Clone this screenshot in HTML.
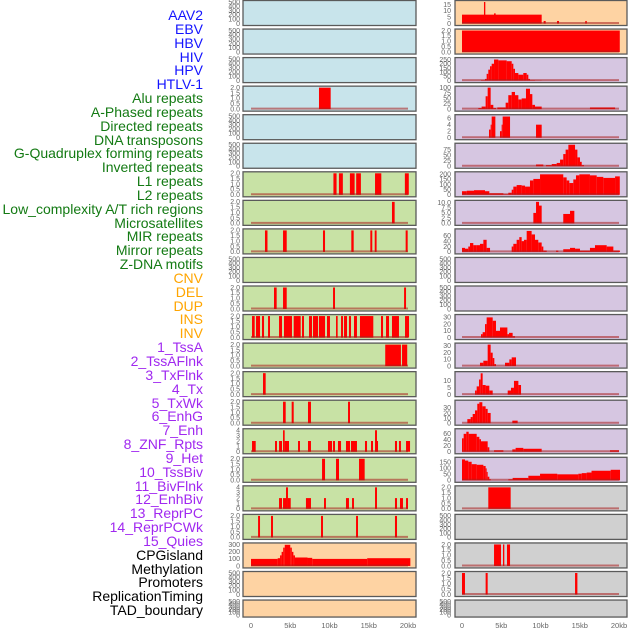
<!DOCTYPE html>
<html><head><meta charset="utf-8"><style>
body{margin:0;background:#fff;}
#wrap{position:relative;width:630px;height:630px;overflow:hidden;font-family:"Liberation Sans",sans-serif;}
.lab{position:absolute;right:427px;font-size:14px;line-height:14px;white-space:nowrap;}
svg{position:absolute;left:0;top:0;}
</style></head><body>
<div id="wrap">
<svg id="chart" width="630" height="630"></svg>
</div>
<script>
const labels=["AAV2","EBV","HBV","HIV","HPV","HTLV-1","Alu repeats","A-Phased repeats","Directed repeats","DNA transposons","G-Quadruplex forming repeats","Inverted repeats","L1 repeats","L2 repeats","Low_complexity A/T rich regions","Microsatellites","MIR repeats","Mirror repeats","Z-DNA motifs","CNV","DEL","DUP","INS","INV","1_TssA","2_TssAFlnk","3_TxFlnk","4_Tx","5_TxWk","6_EnhG","7_Enh","8_ZNF_Rpts","9_Het","10_TssBiv","11_BivFlnk","12_EnhBiv","13_ReprPC","14_ReprPCWk","15_Quies","CPGisland","Methylation","Promoters","ReplicationTiming","TAD_boundary"];
const labelGroups=[6,13,5,15,5];
const groupColors=["#1414ff","#137a13","#ffa500","#a028f0","#000000"];
const xTickLabels=["0","5kb","10kb","15kb","20kb"];
const xTickValues=[0,5,10,15,20];

// panel background groups
const leftBg=["b","b","b","b","b","b","g","g","g","g","g","g","g","g","g","g","g","g","g","o","o","o"];
const rightBg=["o","o","p","p","p","p","p","p","p","p","p","p","p","p","p","p","p","y","y","y","y","y"];
const bgColors={b:"#c8e4eb",g:"#c8e2a5",o:"#fed3a3",p:"#d6c6e1",y:"#d0d0d0"};

const leftYMax=[500,500,500,2,500,500,2,2,2,500,2,2,2,2,2,4,2,4,2,305,500,500];
const rightYMax=[17,2,255,100,6.6,97,210,10.3,80,500,500,32,32,15.6,42,72,180,2,500,2,2,500];

const T500=["0","100","200","300","400","500"];
const T2=["0.0","0.5","1.0","1.5","2.0"];
const T4=["0","1","2","3","4"];
const leftTicks=[T500,T500,T500,T2,T500,T500,T2,T2,T2,T500,T2,T2,T2,T2,T2,T4,T2,T4,T2,["0","100","200","300"],T500,T500];
const rightTicks=[["0","5","10","15"],T2,["0","50","100","150","200","250"],["0","25","50","75","100"],["0","2","4","6"],["0","25","50","75"],["0","50","100","150","200"],["0.0","2.5","5.0","7.5","10.0"],["0","20","40","60"],T500,T500,["0","10","20","30"],["0","10","20","30"],["0","5","10"],["0","10","20","30"],["0","20","40","60"],["0","50","100","150"],T2,T500,T2,T2,T500];

// segments [startKb, endKb, value]
const segL4=[[8.66,10.15,2]];
const segL7=[[10.5,10.9,2],[11.2,11.7,2],[12.6,13.2,2],[13.4,14.0,2],[15.8,16.6,2],[19.6,20.1,2]];
const segL8=[[17.96,18.3,2]];
const segL9=[[1.78,2.1,2],[4.08,4.55,2],[9.17,9.43,2],[12.78,13.08,2],[15.2,15.45,2],[15.76,16.0,2],[19.7,19.96,2]];
const segL11=[[2.93,3.27,2],[4.08,4.55,2],[10.45,10.7,2],[19.5,19.75,2]];
const segL12=[[0.13,0.47,2],[0.64,1.15,2],[1.4,1.66,2],[2.17,2.42,2],[3.57,3.95,2],[4.2,5.22,2],[5.44,6.33,2],[6.5,6.75,2],[7.39,7.77,2],[7.9,8.54,2],[8.66,9.43,2],[9.68,10.06,2],[10.83,11.04,2],[11.47,11.72,2],[11.85,12.23,2],[12.48,12.74,2],[13.12,13.5,2],[13.88,15.58,2],[16.56,16.82,2],[17.2,17.58,2],[17.96,18.85,2],[19.62,20.13,2]];
const segL13=[[17.1,19.1,2],[19.24,19.9,2]];
const segL14=[[1.53,1.87,2]];
const segL15=[[4.08,4.42,2],[5.18,5.44,2],[7.26,7.64,2],[12.36,12.61,2]];
const segL16=[[0.13,0.6,2],[3.06,3.31,2],[3.57,3.95,2],[4.08,4.29,4],[4.29,4.84,2],[5.99,6.24,2],[7.26,7.64,2],[9.81,10.32,2],[10.45,10.7,2],[11.08,11.47,2],[12.1,12.61,2],[12.74,13.5,2],[14.52,14.78,2],[15.29,15.54,2],[15.8,16.05,4],[16.05,16.18,2],[18.34,18.6,2],[18.85,19.1,2],[19.75,20.26,2]];
const segL17=[[9.05,9.43,2],[10.83,11.21,2],[13.76,14.48,2]];
const segL18=[[3.57,3.95,2],[4.08,4.46,2],[4.46,4.71,4],[4.71,5.06,2],[7.0,7.64,2],[9.3,9.55,2],[12.1,12.48,2],[12.87,13.12,2],[15.8,16.05,4],[18.34,18.6,2],[18.98,19.36,2],[19.75,20.0,2]];
const segL19=[[0.9,1.15,2],[2.55,2.8,2],[8.92,9.17,2],[13.38,13.63,2],[18.34,18.6,2]];
const segL20=[[0,3.4,100],[3.4,3.7,110],[3.7,3.9,150],[3.9,4.1,200],[4.1,4.3,260],[4.3,5.0,300],[5.0,5.2,260],[5.2,5.4,200],[5.4,5.6,150],[5.6,7.2,120],[7.2,7.8,115],[7.8,14.8,100],[14.8,20.3,110]];
const segR1=[[0,10.15,7],[2.8,2.97,17],[4.08,4.29,8],[10.4,10.66,2],[12.1,12.36,2],[15.7,15.9,2]];
const segR2=[[0,20.1,2]];
const segR3=[[2.42,2.93,5],[2.93,3.14,20],[3.14,3.35,80],[3.35,3.57,130],[3.57,3.78,170],[3.78,4.08,200],[4.08,4.63,250],[4.63,5.69,240],[5.69,6.33,230],[6.33,6.54,200],[6.54,6.75,140],[6.75,7.18,90],[7.18,7.81,70],[7.81,8.24,90],[8.24,8.45,70],[8.45,8.66,20],[8.66,9.3,5],[9.3,10.15,2]];
const segR4=[[2.08,2.5,5],[2.5,3.01,12],[3.01,3.27,60],[3.27,3.65,100],[3.65,3.99,20],[3.99,4.33,5],[4.5,5.56,8],[5.56,5.9,30],[5.9,6.33,65],[6.33,6.75,80],[6.75,7.18,65],[7.18,7.6,45],[7.6,8.15,50],[8.15,8.66,95],[8.66,8.96,70],[8.96,9.3,20],[9.3,10.15,12],[16.3,19.5,8]];
const segR5=[[3.44,3.65,2.5],[3.65,3.78,4],[3.78,4.25,6.5],[4.84,5.05,2],[5.05,5.18,4],[5.18,6.12,6.5],[9.43,10.15,4]];
const segR6=[[9.43,10.36,8],[10.7,11.43,5],[11.43,12.06,10],[12.06,12.49,15],[12.49,12.9,30],[12.9,13.2,55],[13.2,13.55,75],[13.55,14.4,97],[14.4,14.7,75],[14.7,15.03,40],[15.03,15.25,20],[15.25,15.54,5]];
const segR7=[[0,0.6,35],[0.6,1.53,40],[1.53,2.93,45],[2.93,3.48,35],[3.48,5.27,15],[5.27,5.9,5],[5.9,6.33,20],[6.33,6.54,50],[6.54,6.96,80],[6.96,7.6,95],[7.6,8.03,90],[8.03,8.66,80],[8.66,9.09,140],[9.09,9.94,155],[9.94,12.9,200],[12.9,13.33,170],[13.33,13.67,140],[13.67,14.18,115],[14.18,14.52,150],[14.52,14.95,190],[14.95,16.3,200],[16.3,17.16,190],[17.16,18.0,175],[18.0,19.5,165],[19.5,20.1,180]];
const segR8=[[9.09,9.43,5],[9.43,9.81,10.3],[9.81,10.15,8.5],[12.9,13.76,4.5],[13.76,14.31,6]];
const segR9=[[0,0.38,15],[0.38,0.8,12],[0.8,1.02,20],[1.02,1.44,33],[1.44,1.87,25],[1.87,2.29,25],[2.29,2.72,30],[2.72,3.14,45],[3.14,3.57,15],[6.33,6.54,20],[6.54,6.96,30],[6.96,7.3,45],[7.3,7.6,55],[7.6,7.9,40],[7.9,8.24,45],[8.24,8.87,78],[8.87,9.3,65],[9.3,9.72,45],[9.72,10.15,35],[10.15,10.36,20],[10.36,10.79,5],[11.98,12.27,5],[12.9,13.76,10],[13.76,14.4,15],[14.4,15.03,12],[15.03,16.3,5],[16.3,16.94,15],[16.94,18.43,25],[18.43,19.28,20],[19.28,20.13,5]];
const segR12=[[2.42,2.63,5],[2.63,2.93,8],[2.93,3.14,20],[3.14,3.91,30],[3.91,4.33,25],[4.33,4.84,10],[4.84,5.78,15],[5.78,5.99,5],[5.99,6.45,7],[6.45,6.75,2]];
const segR13=[[2.29,2.72,5],[2.72,3.27,8],[3.27,3.65,32],[3.65,3.91,20],[3.91,4.12,12],[4.12,4.33,3],[5.48,6.03,5],[6.03,6.33,10],[6.33,6.88,13]];
const segR14=[[1.66,1.87,3],[1.87,2.17,6],[2.17,2.38,11],[2.38,2.63,15.5],[2.63,3.01,7],[3.01,3.48,6.5],[3.48,3.91,3],[5.82,6.24,3],[6.24,6.62,5],[6.62,7.18,10],[7.18,7.52,7]];
const segR15=[[0.68,1.1,8],[1.1,1.36,12],[1.36,1.66,18],[1.66,1.95,25],[1.95,2.21,38],[2.21,2.59,41],[2.59,3.01,33],[3.01,3.27,28],[3.27,3.65,20],[6.41,7.09,5]];
const segR16=[[0,0.21,45],[0.21,0.55,60],[0.55,0.85,67],[0.85,1.87,60],[1.87,2.21,50],[2.21,2.42,42],[2.42,3.27,35],[3.27,3.48,15],[4.08,5.27,5],[6.41,6.83,8],[6.83,7.81,13],[7.81,10.15,10],[18.85,20.0,5]];
const segR17=[[0,0.38,175],[0.38,0.8,165],[0.8,1.23,155],[1.23,1.87,135],[1.87,2.72,130],[2.72,3.01,120],[3.01,3.14,100],[3.14,3.27,70],[3.27,3.48,30],[3.48,3.65,10],[5.9,6.45,8],[6.45,8.45,20],[8.45,9.94,38],[9.94,12.14,55],[12.14,14.82,50],[14.82,15.25,55],[15.25,15.88,60],[15.88,16.5,65],[16.5,18.94,80],[18.94,20.13,88]];
const segR18=[[3.35,6.2,2]];
const segR20=[[4.08,4.97,2],[5.22,5.39,2],[5.73,6.12,2]];
const segR21=[[0,0.38,2],[3.01,3.27,2],[14.4,14.7,2]];

const leftSegs=[[],[],[],segL4,[],[],segL7,segL8,segL9,[],segL11,segL12,segL13,segL14,segL15,segL16,segL17,segL18,segL19,segL20,[],[]];
const rightSegs=[segR1,segR2,segR3,segR4,segR5,segR6,segR7,segR8,segR9,[],[],segR12,segR13,segR14,segR15,segR16,segR17,segR18,[],segR20,segR21,[]];

const NS="http://www.w3.org/2000/svg";
const svg=document.getElementById("chart");
const wrap=document.getElementById("wrap");

// labels
let li=0;
labelGroups.forEach((n,g)=>{
  for(let k=0;k<n;k++){
    const d=document.createElement("div");
    d.className="lab";
    d.style.top=(8+li*13.84)+"px";
    d.style.color=groupColors[g];
    d.textContent=labels[li];
    
    
    wrap.appendChild(d);
    li++;
  }
});

function el(tag,attrs){const e=document.createElementNS(NS,tag);for(const k in attrs)e.setAttribute(k,attrs[k]);return e;}

const cols=[{px:243,pw:173,x0:251,tx:240,bgs:leftBg,ym:leftYMax,tk:leftTicks,sg:leftSegs,nm:"left"},
            {px:455,pw:172,x0:462,tx:451,bgs:rightBg,ym:rightYMax,tk:rightTicks,sg:rightSegs,nm:"right"}];
const kbScale=157/20;

cols.forEach(c=>{
  const xs=kb=>c.x0+kb*kbScale;
  for(let i=0;i<22;i++){
    const top=i*28.55+0.5;
    const h=(i===21)?17:25;
    const bottom=top+h;
    const y0=bottom-2, y1=top+1.5;
    const ymax=c.ym[i];
    const ys=v=>y0-(v/ymax)*(y0-y1);
    const g=el("g",{});
    
    
    const bg=el("rect",{x:c.px,y:top,width:c.pw,height:h,fill:bgColors[c.bgs[i]]});
    
    
    g.appendChild(bg);
    c.sg[i].forEach(s=>{
      const r=el("rect",{x:xs(s[0]),y:ys(s[2]),width:Math.max(0.8,xs(s[1])-xs(s[0])),height:y0-ys(s[2]),fill:"#ff0000"});
      
      
      g.appendChild(r);
    });
    if(c.sg[i].length){
      const bl=el("line",{x1:xs(0),x2:xs(20),y1:y0-0.5,y2:y0-0.5,stroke:"rgba(170,30,30,0.55)","stroke-width":2});
      
      
      g.appendChild(bl);
    }
    const br=el("rect",{x:c.px,y:top,width:c.pw,height:h,fill:"none",stroke:"#5a5a5a","stroke-width":1.3});
    
    
    g.appendChild(br);
    const tks=c.tk[i];
    const tmax=parseFloat(tks[tks.length-1]);
    tks.forEach(t=>{
      const v=parseFloat(t);
      const ty=(tmax>ymax)? y0-(v/tmax)*(y0-y1) : ys(v);
      const tt=el("text",{x:c.tx,y:ty+2.3,"text-anchor":"end","font-size":"7","fill":"#666","font-family":"Liberation Sans, sans-serif"});
      tt.textContent=t;
      
      
      g.appendChild(tt);
    });
    svg.appendChild(g);
  }
  xTickValues.forEach((v,k)=>{
    const t=el("text",{x:xs(v),y:628,"text-anchor":"middle","font-size":"7.5","fill":"#666","font-family":"Liberation Sans, sans-serif"});
    t.textContent=xTickLabels[k];
    
    
    svg.appendChild(t);
  });
});
</script>
</body></html>
